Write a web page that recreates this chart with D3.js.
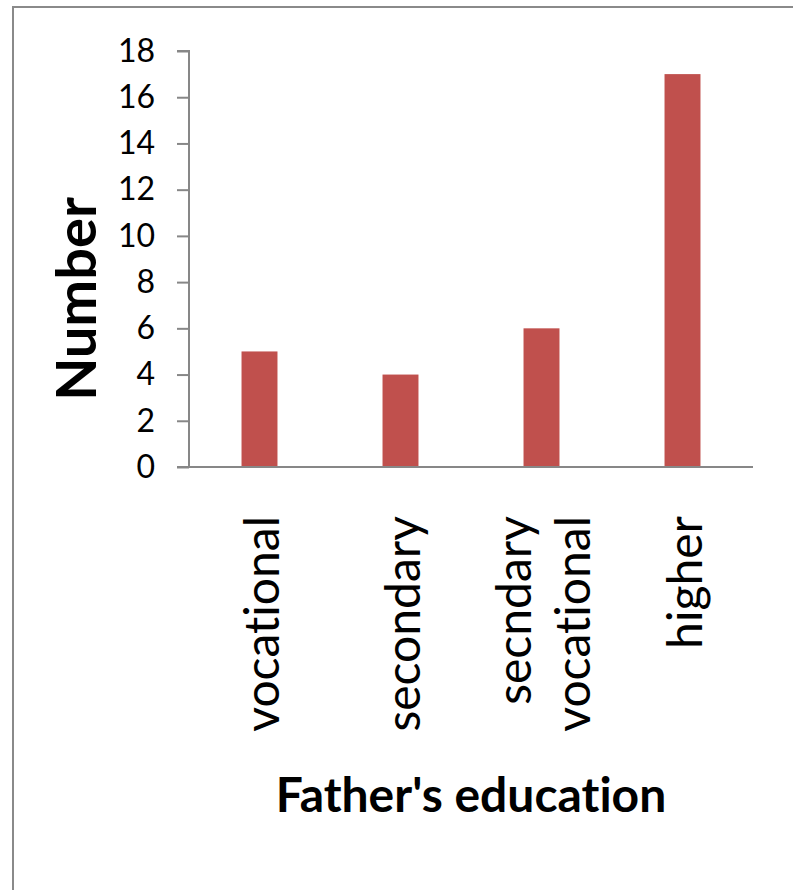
<!DOCTYPE html>
<html>
<head>
<meta charset="utf-8">
<script src="https://cdn.jsdelivr.net/npm/d3@7"></script>
<style>
  body { margin: 0; background: #fff; }
  svg { display: block; font-family: Lato, "Open Sans", sans-serif; font-variant-ligatures: none; }
</style>
</head>
<body>
<div id="chart"></div>
<script>
// data
const categories = ["vocational", "secondary", "secndary vocational", "higher"];
const categoryLines = [["vocational"], ["secondary"], ["secndary", "vocational"], ["higher"]];
const counts = [5, 4, 6, 17];
const yTicks = [0, 2, 4, 6, 8, 10, 12, 14, 16, 18];
const yTitle = "Number";
const xTitle = "Father's education";

document.addEventListener("DOMContentLoaded", () => {
  const width = 793;
  const height = 890;
  const plot = { left: 189, right: 753, top: 51, bottom: 467 };

  const svg = d3
    .select("#chart")
    .append("svg")
    .attr("width", width)
    .attr("height", height);

  // frame of the chart area
  svg
    .append("path")
    .attr("d", `M13,${height + 5}V7H${width + 5}`)
    .attr("fill", "none")
    .attr("stroke", "#8a8a8a")
    .attr("stroke-width", 2);

  const x = d3
    .scaleBand()
    .domain(categories)
    .range([plot.left, plot.right])
    .paddingInner(0.745)
    .paddingOuter(0.3725);

  const y = d3
    .scaleLinear()
    .domain([0, 18])
    .range([plot.bottom, plot.top]);

  // y axis
  const yAxis = svg
    .append("g")
    .attr("transform", `translate(${plot.left},0)`)
    .call(d3.axisLeft(y).tickValues(yTicks).tickSize(12).tickPadding(22));

  yAxis.select(".domain").attr("stroke", "#878787").attr("stroke-width", 2)
    .attr("d", `M-12,${plot.top}H0V${plot.bottom}`);
  yAxis.selectAll(".tick line").attr("stroke", "#878787").attr("stroke-width", 2);
  yAxis
    .selectAll(".tick text")
    .attr("fill", "#000")
    .attr("font-size", 32)
    .attr("font-family", "Lato, sans-serif");

  // bars
  svg
    .selectAll("rect.bar")
    .data(counts)
    .enter()
    .append("rect")
    .attr("class", "bar")
    .attr("x", (d, i) => x(categories[i]))
    .attr("y", (d) => y(d))
    .attr("width", x.bandwidth())
    .attr("height", (d) => y(0) - y(d))
    .attr("fill", "#c0504d");

  // x axis line
  svg
    .append("line")
    .attr("x1", plot.left - 12)
    .attr("x2", plot.right)
    .attr("y1", plot.bottom)
    .attr("y2", plot.bottom)
    .attr("stroke", "#878787")
    .attr("stroke-width", 2);

  // rotated category labels
  const lineGap = 59;
  categories.forEach((cat, i) => {
    const lines = categoryLines[i];
    const center = x(cat) + x.bandwidth() / 2;
    lines.forEach((txt, j) => {
      const bx = center + 19 + (j - (lines.length - 1) / 2) * lineGap;
      svg
        .append("text")
        .attr("transform", `translate(${bx},516) rotate(-90)`)
        .attr("text-anchor", "end")
        .attr("font-size", 48)
        .attr("fill", "#000")
        .text(txt);
    });
  });

  // axis titles
  svg
    .append("text")
    .attr("transform", "translate(96,299) rotate(-90)")
    .attr("text-anchor", "middle")
    .attr("font-size", 56)
    .attr("font-weight", "bold")
    .attr("fill", "#000")
    .text(yTitle);

  svg
    .append("text")
    .attr("x", 471)
    .attr("y", 812)
    .attr("text-anchor", "middle")
    .attr("font-size", 48)
    .attr("font-weight", "bold")
    .attr("fill", "#000")
    .text(xTitle);
});
</script>
</body>
</html>
